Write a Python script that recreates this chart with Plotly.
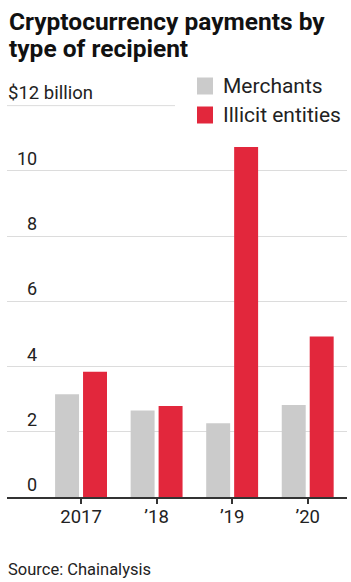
import plotly.graph_objects as go

# ---- data ----
categories = ["2017", "\u201918", "\u201919", "\u201920"]
merchants = [3.15, 2.65, 2.26, 2.82]
illicit = [3.84, 2.79, 10.73, 4.92]
y_ticks = [0, 2, 4, 6, 8, 10]
y_tick_labels = ["0", "2", "4", "6", "8", "10"]
top_label = "$12 billion"
series_names = ["Merchants", "Illicit entities"]
title_lines = ["Cryptocurrency payments by", "type of recipient"]
source_text = "Source: Chainalysis"

# ---- style ----
GREY = "#cbcbcb"
RED = "#e2273c"
TEXT = "#222222"
GRID = "#dcdcdc"
NARROW = "Roboto, Lato, sans-serif"
REG = "Roboto, Lato, sans-serif"

W, H = 351, 582
L, R, T, B = 7, 4, 104, 85
PW, PH = W - L - R, H - T - B


def px(xp):
    return (xp - L) / PW


def py(yp):
    return (H - B - yp) / PH


x_idx = list(range(len(categories)))

fig = go.Figure()
fig.add_trace(go.Bar(x=x_idx, y=merchants, name=series_names[0],
                     marker=dict(color=GREY, line=dict(width=0)), showlegend=False))
fig.add_trace(go.Bar(x=x_idx, y=illicit, name=series_names[1],
                     marker=dict(color=RED, line=dict(width=0)), showlegend=False))

annotations = []
# title
title_centers = [21, 48.5]
for line, cy in zip(title_lines, title_centers):
    annotations.append(dict(text="<b>" + line + "</b>", xref="paper", yref="paper",
                            x=px(6.5), y=py(cy), xanchor="left", yanchor="middle",
                            showarrow=False, font=dict(family=REG, size=24.5, color="#111111")))
# top unit label
annotations.append(dict(text=top_label, xref="paper", yref="paper", x=px(6), y=py(93),
                        xanchor="left", yanchor="middle", showarrow=False,
                        font=dict(family=NARROW, size=18.5, color=TEXT)))
# y tick labels
for v, lab in zip(y_ticks, y_tick_labels):
    annotations.append(dict(text=lab, xref="paper", yref="y", x=px(39), y=v, yshift=12.5,
                            xanchor="right", yanchor="middle", showarrow=False,
                            font=dict(family=NARROW, size=18, color=TEXT)))
# legend
legend_colors = [GREY, RED]
legend_y = [86, 115]
shapes = []
for name, col, ly in zip(series_names, legend_colors, legend_y):
    shapes.append(dict(type="rect", xref="paper", yref="paper",
                       x0=px(197), x1=px(213), y0=py(ly - 8.5), y1=py(ly + 8.5),
                       fillcolor=col, line=dict(width=0)))
    annotations.append(dict(text=name, xref="paper", yref="paper", x=px(221), y=py(ly),
                            xanchor="left", yanchor="middle", showarrow=False,
                            font=dict(family=REG, size=21, color=TEXT)))
# top (12) rule, shortened because of legend
shapes.append(dict(type="line", xref="paper", yref="y", x0=0, x1=px(175), y0=12, y1=12,
                   line=dict(color=GRID, width=1)))
# source
annotations.append(dict(text=source_text, xref="paper", yref="paper", x=px(6), y=py(569),
                        xanchor="left", yanchor="middle", showarrow=False,
                        font=dict(family=NARROW, size=16.5, color=TEXT)))

fig.update_layout(
    width=W, height=H,
    margin=dict(l=L, r=R, t=T, b=B, pad=0),
    paper_bgcolor="white", plot_bgcolor="white",
    barmode="group", bargap=0.26, bargroupgap=0.143,
    annotations=annotations, shapes=shapes,
    showlegend=False,
    xaxis=dict(range=[-0.98, 3.52], tickmode="array", tickvals=x_idx, ticktext=categories,
               showline=True, linecolor="#333333", linewidth=2, ticks="outside", ticklen=5,
               tickwidth=1.5, tickcolor="#333333", showgrid=False, zeroline=False,
               ticklabelstandoff=-3,
               tickfont=dict(family=NARROW, size=18.5, color=TEXT), fixedrange=True),
    yaxis=dict(range=[0, 12.05], tickmode="array", tickvals=y_ticks, showticklabels=False,
               showgrid=True, gridcolor=GRID, gridwidth=1, zeroline=False, showline=False,
               ticks="", fixedrange=True),
)

fig.write_html("out.html", config={"displayModeBar": False})
